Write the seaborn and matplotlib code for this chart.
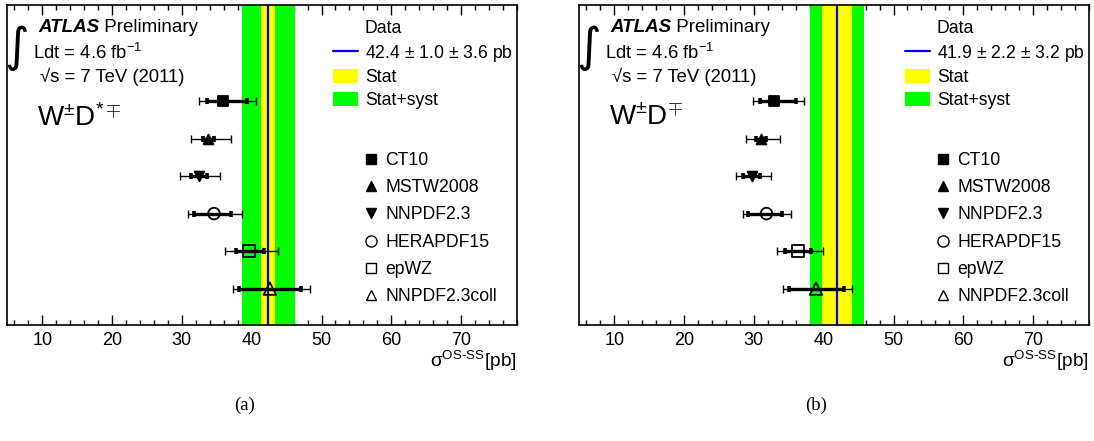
import numpy as np
import matplotlib
matplotlib.use("Agg")
import matplotlib.pyplot as plt
from matplotlib.lines import Line2D
from matplotlib.patches import Patch
from matplotlib.ticker import MultipleLocator
import seaborn as sns

# ---------------- data ----------------
models = ["CT10", "MSTW2008", "NNPDF2.3", "HERAPDF15", "epWZ", "NNPDF2.3coll"]
marker_styles = ["s", "^", "v", "o", "s", "^"]
marker_filled = [True, True, True, False, False, False]

# (a) W D*
dstar_center = [35.9, 33.8, 32.4, 34.6, 39.6, 42.6]
dstar_inner_lo = [33.6, 33.0, 31.3, 31.7, 37.7, 38.2]
dstar_inner_hi = [39.3, 34.6, 33.6, 37.0, 41.7, 47.0]
dstar_outer_lo = [32.5, 31.3, 29.8, 30.9, 36.2, 37.3]
dstar_outer_hi = [40.6, 37.0, 35.5, 38.6, 43.7, 48.3]
dstar_data = [42.4, 1.0, 3.6]   # value, stat, syst

# (b) W D
d_center = [32.95, 31.05, 29.75, 31.8, 36.3, 38.9]
d_inner_lo = [30.9, 30.3, 28.5, 29.1, 34.5, 35.0]
d_inner_hi = [36.0, 31.8, 30.9, 34.0, 38.2, 42.9]
d_outer_lo = [29.9, 28.8, 27.4, 28.4, 33.3, 34.2]
d_outer_hi = [37.2, 33.8, 32.5, 35.3, 39.9, 44.1]
d_data = [41.9, 2.2, 3.2]

xticks = [10, 20, 30, 40, 50, 60, 70]

sns.set_style("white")
plt.rcParams["font.family"] = ["Liberation Sans", "DejaVu Sans"]
plt.rcParams["mathtext.fontset"] = "custom"
plt.rcParams["mathtext.rm"] = "Liberation Sans"
plt.rcParams["mathtext.it"] = "Liberation Sans:italic"
plt.rcParams["mathtext.bf"] = "Liberation Sans:bold"
plt.rcParams["text.color"] = "black"
plt.rcParams["xtick.color"] = "black"
plt.rcParams["xtick.labelcolor"] = "black"
plt.rcParams["legend.labelcolor"] = "black"

W, H = 1094, 441
fig = plt.figure(figsize=(W / 100, H / 100), dpi=100)

def px_axes(x0, x1, ytop, ybot):
    return fig.add_axes([x0 / W, 1 - ybot / H, (x1 - x0) / W, (ybot - ytop) / H])

axes = [px_axes(7, 517, 5, 325), px_axes(579, 1089, 5, 325)]
panels = [
    (dstar_center, dstar_inner_lo, dstar_inner_hi, dstar_outer_lo, dstar_outer_hi, dstar_data,
     r"W$^{\pm}$D$^{*\mp}$", "(a)"),
    (d_center, d_inner_lo, d_inner_hi, d_outer_lo, d_outer_hi, d_data,
     r"W$^{\pm}$D$^{\mp}$", "(b)"),
]

rows = np.arange(len(models), 0, -1)  # 6 .. 1 top to bottom
FS = 12.7

for ax, (cen, ilo, ihi, olo, ohi, dat, proc, cap) in zip(axes, panels):
    val, stat, syst = dat
    tot = np.hypot(stat, syst)
    ax.axvspan(val - tot, val + tot, color="#00ff00", lw=0, zorder=1)
    ax.axvspan(val - stat, val + stat, color="#ffff00", lw=0, zorder=1.1)
    ax.axvline(val, color="#0000ff", lw=1.6, zorder=1.2)

    cen = np.array(cen)
    ilo, ihi, olo, ohi = map(np.array, (ilo, ihi, olo, ohi))
    ax.errorbar(cen, rows, xerr=[cen - olo, ohi - cen], fmt="none", ecolor="black",
                elinewidth=1.0, capsize=3.2, capthick=1.0, zorder=3)
    ax.errorbar(cen, rows, xerr=[cen - ilo, ihi - cen], fmt="none", ecolor="black",
                elinewidth=2.4, capsize=2.4, capthick=2.6, zorder=3.5)
    for c, r, m, f in zip(cen, rows, marker_styles, marker_filled):
        size = {"s": 62, "^": 50, "v": 50, "o": 60}[m]
        if not f:
            size = {"s": 80, "^": 80, "o": 70}[m]
        sns.scatterplot(x=[c], y=[r], marker=m, s=size, ax=ax,
                        facecolor="black" if f else "none", edgecolor="black",
                        linewidth=1.3, zorder=5, legend=False)

    ax.set_xlim(4.95, 78.0)
    ax.set_ylim(0.03, 8.56)
    ax.set_xticks(xticks)
    ax.xaxis.set_minor_locator(MultipleLocator(2))
    ax.set_yticks([])
    ax.tick_params(axis="x", which="both", direction="in", top=True, bottom=True,
                   labelsize=13, colors="black", labelcolor="black", pad=5)
    ax.tick_params(axis="x", which="major", length=7.5, width=1.0)
    ax.tick_params(axis="x", which="minor", length=3.8, width=1.0)
    for s in ax.spines.values():
        s.set_visible(True)
        s.set_linewidth(1.2)
        s.set_color("black")
    ax.set_xlabel("")
    ax.set_ylabel("")

    ax.text(1.0, -0.112, r"σ$^{\text{OS-SS}}$[pb]", transform=ax.transAxes,
            ha="right", va="center", fontsize=13.8, color="black")

    # ATLAS label block
    ax.text(0.018, 0.866, "∫", transform=ax.transAxes, ha="center", va="center",
            fontsize=34, family="DejaVu Sans", color="black")
    t = ax.text(0.061, 0.931, "ATLAS", transform=ax.transAxes, ha="left", va="center",
                fontsize=13.5, fontweight="bold", fontstyle="italic", color="black")
    ax.annotate(" Preliminary", xycoords=t, xy=(1, 0.5), ha="left", va="center",
                fontsize=13.5, color="black")
    ax.text(0.051, 0.85, r"Ldt = 4.6 fb$^{-1}$", transform=ax.transAxes, ha="left",
            va="center", fontsize=13.3, color="black")
    ax.text(0.065, 0.777, "√s = 7 TeV (2011)", transform=ax.transAxes,
            ha="left", va="center", fontsize=13.3, color="black")
    ax.text(0.059, 0.648, proc, transform=ax.transAxes, ha="left", va="center",
            fontsize=20, color="black")

    # Data legend
    h_data = [Line2D([], [], lw=0, marker=None),
              Line2D([], [], color="#0000ff", lw=1.6),
              Patch(facecolor="#ffff00", edgecolor="none"),
              Patch(facecolor="#00ff00", edgecolor="none")]
    l_data = ["Data", f"{val:.1f} $\\pm$ {stat:.1f} $\\pm$ {syst:.1f} pb", "Stat", "Stat+syst"]
    leg1 = ax.legend(h_data, l_data, loc="upper left", bbox_to_anchor=(0.639, 0.953),
                     frameon=False, fontsize=FS, handlelength=1.42, handleheight=0.85,
                     handletextpad=0.4, labelspacing=0.31, borderpad=0, borderaxespad=0,
                     labelcolor="black")
    ax.add_artist(leg1)

    # model legend
    h_mod = [Line2D([], [], lw=0, marker=m, markersize=7.5 if m != "o" else 8,
                    markerfacecolor="black" if f else "none", markeredgecolor="black",
                    markeredgewidth=1.0)
             for m, f in zip(marker_styles, marker_filled)]
    ax.legend(h_mod, models, loc="upper left", bbox_to_anchor=(0.6965, 0.5406),
              frameon=False, fontsize=FS, handlelength=1.0, handletextpad=0.3,
              labelspacing=0.58, borderpad=0, borderaxespad=0, labelcolor="black")

    bb = ax.get_position()
    fig.text(bb.x0 + bb.width * 0.465, 1 - 405 / H, cap, ha="center", va="center",
             fontsize=13.5, family="Liberation Serif", color="black")

fig.savefig("out.png", dpi=100)
